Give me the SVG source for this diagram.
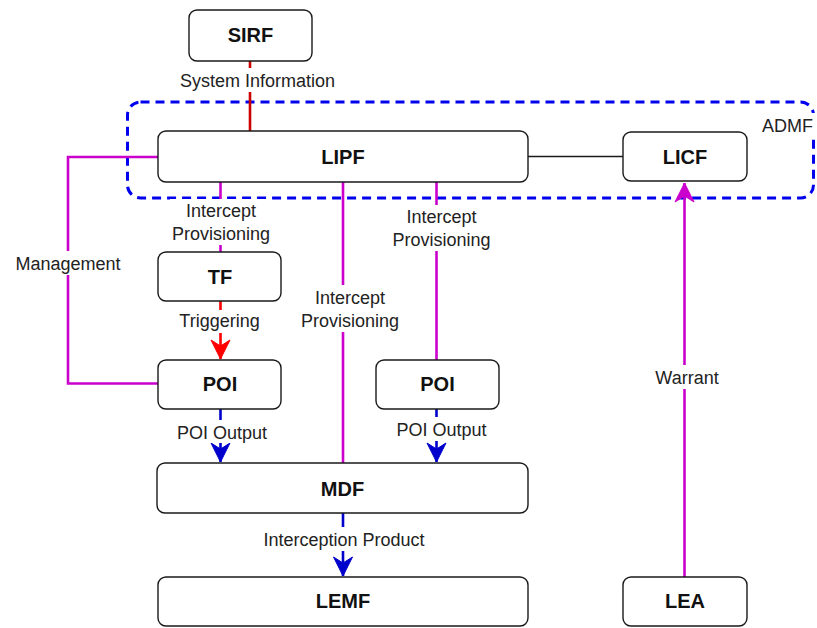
<svg xmlns="http://www.w3.org/2000/svg" width="817" height="628" viewBox="0 0 817 628">
  <style>
    .box { fill: #ffffff; stroke: #1a1a1a; stroke-width: 1.4; }
    .name { font-family: "Liberation Sans", Arial, Helvetica, sans-serif; font-size: 20px; font-weight: bold; fill: #111111; text-anchor: middle; }
    .lbl { font-family: "Liberation Sans", Arial, Helvetica, sans-serif; font-size: 18px; fill: #222222; text-anchor: middle; }
    .lblbg { fill: #ffffff; }
    .mag { stroke: #cc00cc; stroke-width: 2.6; fill: none; }
    .red { stroke: #cc0000; stroke-width: 2.6; fill: none; }
    .trig { stroke: #ff0000; stroke-width: 2.6; fill: none; }
    .blue { stroke: #0000cc; stroke-width: 2.6; fill: none; }
    .plain { stroke: #1a1a1a; stroke-width: 1.4; fill: none; }
  </style>
  <defs>
    <marker id="arrowBlue" markerUnits="userSpaceOnUse" markerWidth="22" markerHeight="22" viewBox="-20 -11 22 22" refX="0" refY="0" orient="auto">
      <path d="M0,0 L-19,-9.5 L-13,0 L-19,9.5 Z" fill="#0000cc" stroke="#0000cc" stroke-width="1"/>
    </marker>
    <marker id="arrowRed" markerUnits="userSpaceOnUse" markerWidth="22" markerHeight="22" viewBox="-20 -11 22 22" refX="0" refY="0" orient="auto">
      <path d="M0,0 L-19,-9.5 L-13,0 L-19,9.5 Z" fill="#ff0000" stroke="#ff0000" stroke-width="1"/>
    </marker>
    <marker id="arrowMag" markerUnits="userSpaceOnUse" markerWidth="22" markerHeight="22" viewBox="-20 -11 22 22" refX="0" refY="0" orient="auto">
      <path d="M0,0 L-19,-9.5 L-13,0 L-19,9.5 Z" fill="#cc00cc" stroke="#cc00cc" stroke-width="1"/>
    </marker>
  </defs>

  <rect width="817" height="628" fill="#ffffff"/>

  <!-- ADMF grouping frame -->
  <g id="admf">
    <rect x="127.5" y="102" width="686" height="96" rx="13" ry="13" fill="none" stroke="#0000ee" stroke-width="3" stroke-dasharray="9 6"/>
    <rect class="lblbg" x="758" y="113" width="59" height="24"/>
    <text class="lbl" x="787.5" y="132">ADMF</text>
  </g>

  <!-- connectors -->
  <g id="connectors">
    <!-- SIRF to LIPF -->
    <line class="red" x1="250" y1="61" x2="250" y2="131"/>
    <!-- LIPF to LICF -->
    <line class="plain" x1="528" y1="156.5" x2="623" y2="156.5"/>
    <!-- Management: LIPF to POI -->
    <polyline class="mag" points="158,157 68,157 68,383.5 158,383.5"/>
    <!-- LIPF to TF -->
    <line class="mag" x1="220.5" y1="182" x2="220.5" y2="252"/>
    <!-- TF to POI -->
    <line class="trig" x1="220.5" y1="301" x2="220.5" y2="359" marker-end="url(#arrowRed)"/>
    <!-- POI to MDF -->
    <line class="blue" x1="220.5" y1="409" x2="220.5" y2="462" marker-end="url(#arrowBlue)"/>
    <!-- LIPF to MDF -->
    <line class="mag" x1="343" y1="182" x2="343" y2="463"/>
    <!-- LIPF to POI (right) -->
    <line class="mag" x1="436.5" y1="182" x2="436.5" y2="360"/>
    <!-- POI (right) to MDF -->
    <line class="blue" x1="436.5" y1="409" x2="436.5" y2="462" marker-end="url(#arrowBlue)"/>
    <!-- MDF to LEMF -->
    <line class="blue" x1="343" y1="513" x2="343" y2="576" marker-end="url(#arrowBlue)"/>
    <!-- LEA to LICF -->
    <line class="mag" x1="684.5" y1="577" x2="684.5" y2="183" marker-end="url(#arrowMag)"/>

    <!-- connector labels -->
    <rect class="lblbg" x="176" y="68" width="163" height="24"/>
    <text class="lbl" x="257.5" y="87">System Information</text>

    <rect class="lblbg" x="12" y="251" width="112" height="24"/>
    <text class="lbl" x="68" y="270">Management</text>

    <rect class="lblbg" x="170" y="199" width="102" height="46"/>
    <text class="lbl" x="221" y="217">Intercept</text>
    <text class="lbl" x="221" y="240">Provisioning</text>

    <rect class="lblbg" x="176" y="310" width="86" height="23"/>
    <text class="lbl" x="219.5" y="327">Triggering</text>

    <rect class="lblbg" x="174" y="420" width="96" height="23"/>
    <text class="lbl" x="222" y="439">POI Output</text>

    <rect class="lblbg" x="299" y="285" width="102" height="47"/>
    <text class="lbl" x="350" y="304">Intercept</text>
    <text class="lbl" x="350" y="327">Provisioning</text>

    <rect class="lblbg" x="390" y="205" width="102" height="46"/>
    <text class="lbl" x="441.5" y="223">Intercept</text>
    <text class="lbl" x="441.5" y="246">Provisioning</text>

    <rect class="lblbg" x="393" y="417" width="97" height="24"/>
    <text class="lbl" x="441.5" y="436">POI Output</text>

    <rect class="lblbg" x="259" y="527" width="170" height="24"/>
    <text class="lbl" x="344" y="546">Interception Product</text>

    <rect class="lblbg" x="652" y="365" width="70" height="24"/>
    <text class="lbl" x="687" y="383.5">Warrant</text>
  </g>

  <!-- nodes -->
  <g id="sirf">
    <rect class="box" x="189" y="10" width="123" height="51" rx="8"/>
    <text class="name" x="250.5" y="42">SIRF</text>
  </g>
  <g id="lipf">
    <rect class="box" x="158" y="131" width="370" height="51" rx="8"/>
    <text class="name" x="343" y="163.5">LIPF</text>
  </g>
  <g id="licf">
    <rect class="box" x="623" y="132" width="124" height="49" rx="8"/>
    <text class="name" x="685" y="163.5">LICF</text>
  </g>
  <g id="tf">
    <rect class="box" x="158" y="252" width="123" height="49" rx="8"/>
    <text class="name" x="220" y="283.5">TF</text>
  </g>
  <g id="poi-left">
    <rect class="box" x="158" y="360" width="123" height="49" rx="8"/>
    <text class="name" x="220" y="391">POI</text>
  </g>
  <g id="poi-right">
    <rect class="box" x="376" y="360" width="123" height="49" rx="8"/>
    <text class="name" x="437.5" y="391">POI</text>
  </g>
  <g id="mdf">
    <rect class="box" x="157" y="463" width="371" height="50" rx="8"/>
    <text class="name" x="342.5" y="495.5">MDF</text>
  </g>
  <g id="lemf">
    <rect class="box" x="158" y="577" width="370" height="49" rx="8"/>
    <text class="name" x="343" y="608">LEMF</text>
  </g>
  <g id="lea">
    <rect class="box" x="623" y="577" width="124" height="49" rx="8"/>
    <text class="name" x="685" y="608">LEA</text>
  </g>
</svg>
